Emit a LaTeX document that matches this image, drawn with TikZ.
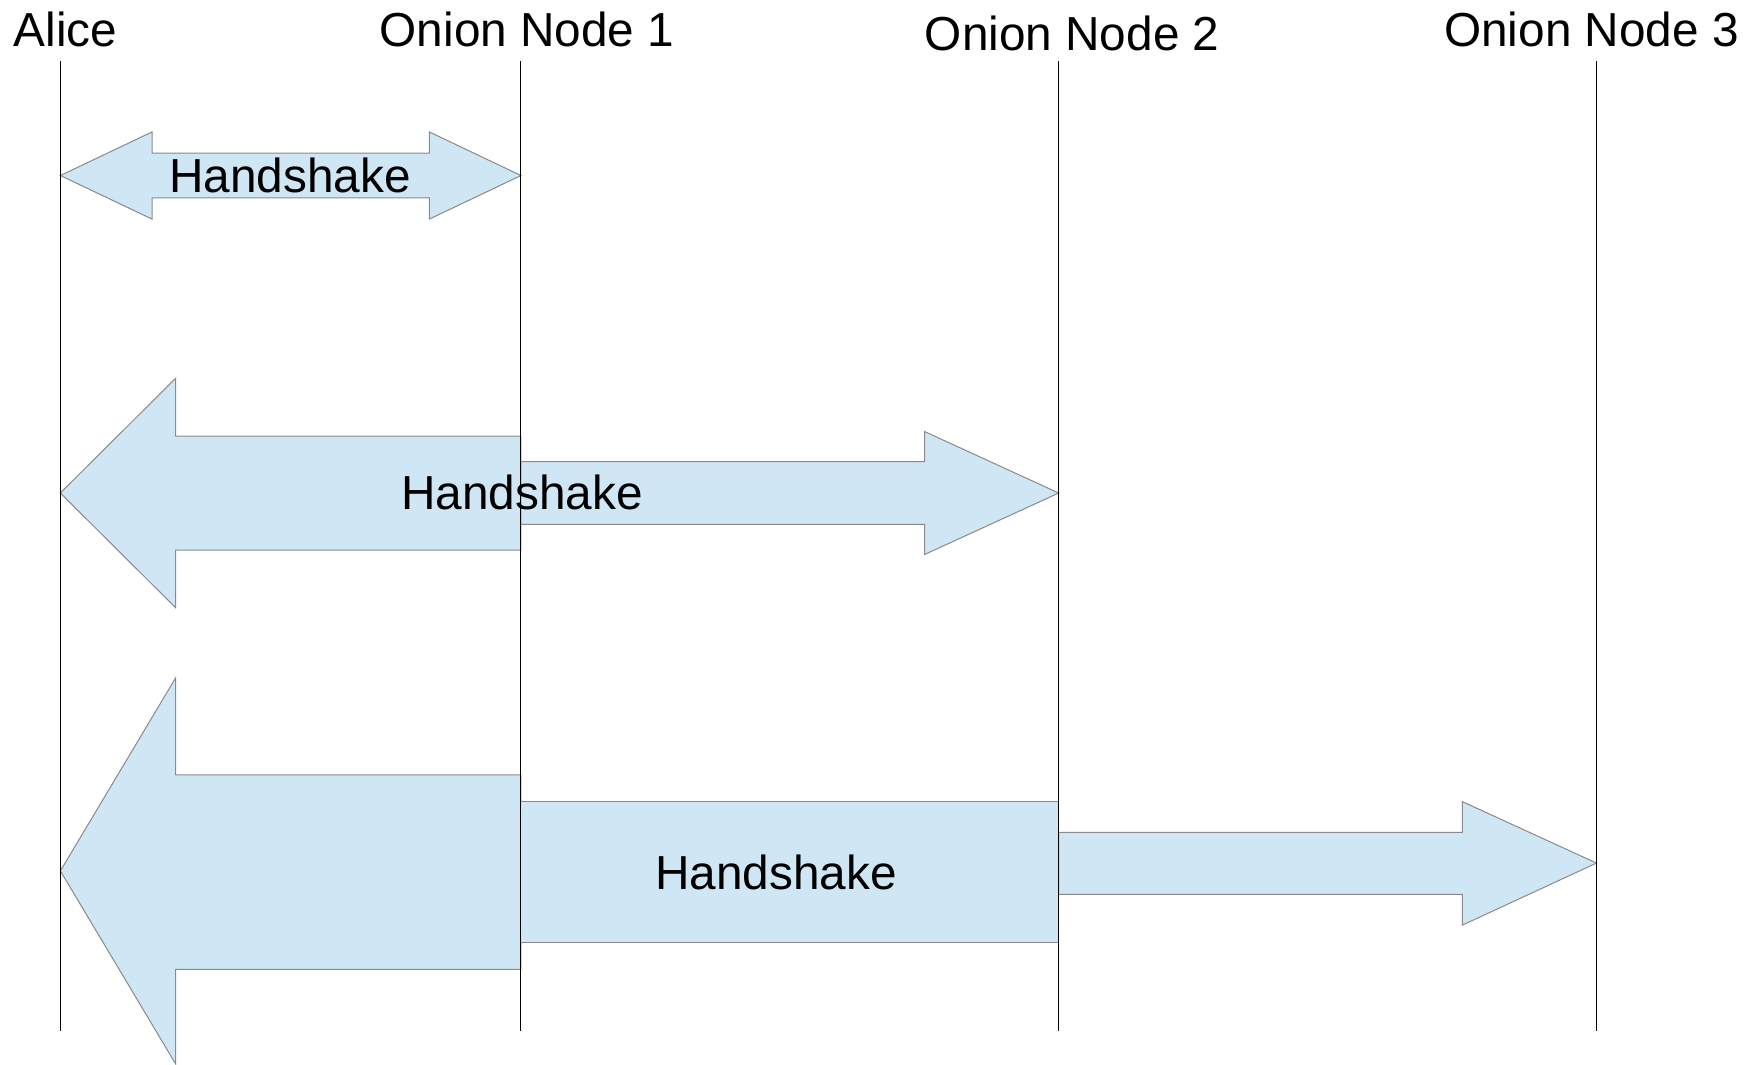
\documentclass[tikz,border=0pt]{standalone}
\usepackage{fontspec}
\setmainfont{Liberation Sans}
\definecolor{shakefill}{RGB}{207,230,244}
\definecolor{shakeline}{RGB}{138,138,138}
\begin{document}
\begin{tikzpicture}[x=1pt,y=-1pt,
  lifeline/.style={draw=black,line width=0.9pt},
  shake/.style={fill=shakefill,draw=shakeline,line width=0.9pt,line join=miter},
  partytext/.style={font=\fontsize{42.7}{50}\selectfont,inner sep=0pt,anchor=base},
  shaketext/.style={font=\fontsize{42.7}{50}\selectfont,inner sep=0pt,anchor=base}]
\useasboundingbox (0,0) rectangle (1568,952);

% participants
\node[partytext] (alice) at (58.5,42) {Alice};
\node[partytext] (on1) at (471.5,42) {Onion Node 1};
\node[partytext] (on2) at (959,45.5) {Onion Node 2};
\node[partytext] (on3) at (1423.5,42) {Onion Node 3};

% lifeline ends
\coordinate (aT) at (54,55);   \coordinate (aB) at (54,922);
\coordinate (n1T) at (466,55); \coordinate (n1B) at (466,922);
\coordinate (n2T) at (947,55); \coordinate (n2B) at (947,922);
\coordinate (n3T) at (1428,55);\coordinate (n3B) at (1428,922);

% first handshake: Alice <-> node 1
\path[shake] (54,157) -- (136,118) -- (136,137) -- (384,137) -- (384,118)
  -- (466,157) -- (384,196) -- (384,177) -- (136,177) -- (136,196) -- cycle;

% second handshake: Alice <- node 1 -> node 2
\path[shake] (54,441) -- (157,338.5) -- (157,390) -- (466,390) -- (466,492)
  -- (157,492) -- (157,543.5) -- cycle;
\path[shake] (466,413) -- (827,413) -- (827,386) -- (947,441) -- (827,496)
  -- (827,469) -- (466,469) -- cycle;

% third handshake: Alice <- node 1 -- node 2 -> node 3
\path[shake] (54,779) -- (157,606.5) -- (157,693) -- (466,693) -- (466,867)
  -- (157,867) -- (157,951.5) -- cycle;
\path[shake] (466,717) rectangle (947,843);
\path[shake] (947,744.5) -- (1308,744.5) -- (1308,717) -- (1428,772) -- (1308,827.5)
  -- (1308,800) -- (947,800) -- cycle;

% lifelines
\draw[lifeline] (aT) -- (aB);
\draw[lifeline] (n1T) -- (n1B);
\draw[lifeline] (n2T) -- (n2B);
\draw[lifeline] (n3T) -- (n3B);

% labels
\node[shaketext] (hs1) at (259.5,172.3) {Handshake};
\node[shaketext] (hs2) at (467,455.3) {Handshake};
\node[shaketext] (hs3) at (694,796) {Handshake};
\end{tikzpicture}
\end{document}
